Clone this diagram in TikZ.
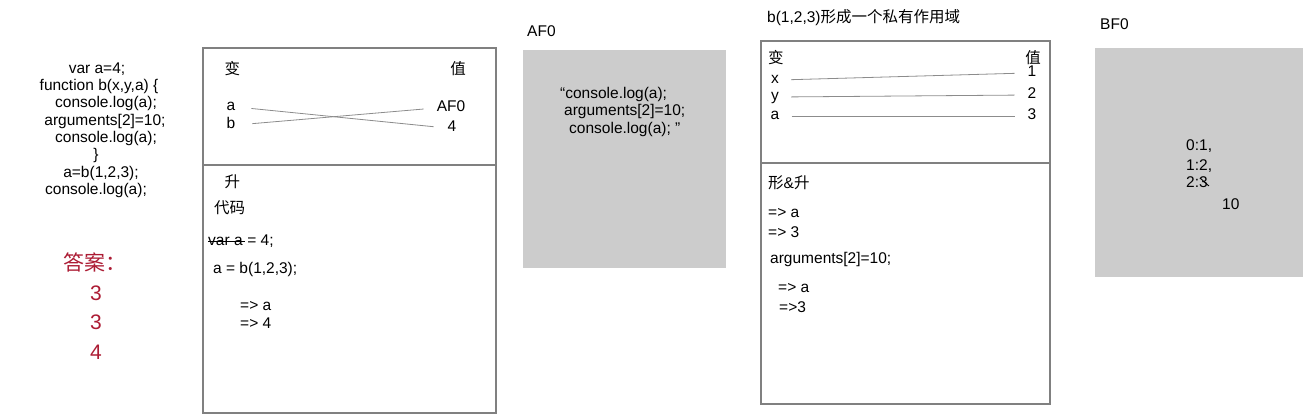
\documentclass[tikz,border=0pt]{standalone}
\usepackage{fontspec}
\setmainfont{Liberation Sans}
\newfontfamily\cjk{Noto Sans CJK SC}
\usepackage{tikz}
\usetikzlibrary{positioning}
\definecolor{frame}{RGB}{128,128,128}
\definecolor{link}{RGB}{140,140,140}
\definecolor{heap}{RGB}{204,204,204}
\definecolor{answer}{RGB}{172,28,52}
\newcommand{\zh}[1]{{\cjk #1}}

\begin{document}
\begin{tikzpicture}[x=1pt,y=-1pt,font=\fontsize{15.5}{18}\selectfont,
  txt/.style={anchor=base west,inner sep=0pt},
  ctxt/.style={anchor=base,inner sep=0pt},
  vname/.style={inner sep=1pt,text height=8pt,text depth=0pt},
  ansfont/.style={text=answer,font=\fontsize{21}{24}\selectfont},
  scopebox/.style={draw=frame,line width=1.1pt},
  heapbox/.style={fill=heap},
  link/.style={draw=link,line width=0.8pt}]
\useasboundingbox (0,0) rectangle (1303,414);

% source code
\foreach \cx/\ln [count=\i] in {97/{var a=4;},99/{function b(x,y,a) \{},106/{console.log(a);},105/{arguments[2]=10;},106/{console.log(a);},96/{\}},101/{a=b(1,2,3);},96/{console.log(a);}}
  \node[ctxt] (code\i) at (\cx,56+\i*17.3) {\ln};

% answer
\node[txt,ansfont] (ans) at (63,270) {\zh{答案：}};
\foreach \d/\y [count=\i] in {3/300,3/329,4/359}
  \node[ctxt,ansfont] (ans\i) at (96,\y) {\d};

% global scope
\draw[scopebox] (203,48) rectangle (496,413);
\draw[scopebox] (203,165) -- (496,165);
\node[txt] (gvar) at (224.5,75) {\zh{变}};
\node[ctxt] (gval) at (458,75) {\zh{值}};
\node[vname] (ga) at (231,107) {a};
\node[vname] (gb) at (231,125) {b};
\node[vname] (gaf) at (451,108) {AF0};
\node[vname] (g4) at (452,128) {4};
\draw[link,shorten <=15pt,shorten >=13pt] (ga.east) -- (g4.west);
\draw[link,shorten <=16pt,shorten >=12pt] (gb.east) -- (gaf.west);

\node[txt] (ghoist) at (224.5,188) {\zh{升}};
\node[txt] (gcode) at (214,213) {\zh{代码}};
\node[txt] (del) at (208,245) {var a};
\node[txt] (decl) at ([xshift=4.3pt]del.base east) {= 4;};
\draw[line width=0.9pt] ([yshift=4pt]del.base west) -- ([xshift=2pt,yshift=4pt]del.base east);
\node[txt] (gcall) at (213,273) {a = b(1,2,3);};
\node[txt] (gout1) at (240,310) {=> a};
\node[txt] (gout2) at (240,328) {=> 4};

% heap AF0
\node[txt] (afname) at (527,37) {AF0};
\fill[heapbox] (523,50) rectangle (726,268);
\foreach \lx/\ln [count=\i] in {560/{“console.log(a);},564/{arguments[2]=10;},569/{console.log(a); ”}}
  \node[txt] (af\i) at (\lx,81+\i*17.5) {\ln};

% private scope of b(1,2,3)
\node[txt] (bname) at (767,23) {b(1,2,3)\zh{形成一个私有作用域}};
\draw[scopebox] (761,41) rectangle (1050,404);
\draw[scopebox] (761,163) -- (1050,163);
\node[txt] (bvar) at (768,64) {\zh{变}};
\node[ctxt] (bval) at (1033,64) {\zh{值}};
\node[vname] (bx) at (775,80) {x};
\node[vname] (by) at (775,97) {y};
\node[vname] (ba) at (775,116) {a};
\node[vname] (b1) at (1032,73) {1};
\node[vname] (b2) at (1032,95) {2};
\node[vname] (b3) at (1032,116) {3};
\foreach \v/\n in {x/1,y/2,a/3}
  \draw[link,shorten <=11pt,shorten >=12pt] (b\v.east) -- (b\n.west);

\node[txt] (bhoist) at (768,189) {\zh{形}\&\zh{升}};
\node[txt] (bout1) at (768,218) {=> a};
\node[txt] (bout2) at (768,237) {=> 3};
\node[txt] (bset) at (770,263) {arguments[2]=10;};
\node[txt] (bout3) at (778,292) {=> a};
\node[txt] (bout4) at (779,312) {=>3};

% heap BF0
\node[txt] (bfname) at (1100,30) {BF0};
\fill[heapbox] (1095,48) rectangle (1303,277);
\node[txt] (bf1) at (1186,151) {0:1,};
\node[txt] (bf2) at (1186,171) {1:2,};
\node[txt] (bf3) at (1186,188) {2:3};
\draw[line width=0.9pt] ([xshift=-8pt,yshift=10pt]bf3.base east) -- ([xshift=1pt,yshift=2pt]bf3.base east);
\node[txt] (bf4) at (1222,209) {10};
\end{tikzpicture}
\end{document}
